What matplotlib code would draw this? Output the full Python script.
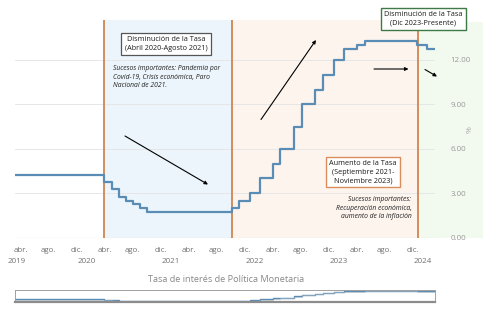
import matplotlib
matplotlib.use("Agg")
import matplotlib.pyplot as plt
import matplotlib.dates as mdates
import matplotlib.transforms as mtransforms
from matplotlib.patches import Rectangle
import pandas as pd

plt.rcParams['font.family'] = ['Open Sans', 'DejaVu Sans']

# ---------------- data ----------------
change_dates = ['2019-03-08', '2020-03-31', '2020-05-01', '2020-05-31', '2020-07-01',
                '2020-08-03', '2020-09-02', '2020-10-01', '2021-10-06', '2021-11-06',
                '2021-12-22', '2022-02-03', '2022-04-03', '2022-05-03', '2022-07-02',
                '2022-08-06', '2022-10-04', '2022-11-04', '2022-12-22', '2023-02-04',
                '2023-04-01', '2023-05-06', '2023-12-21', '2024-01-31']
rates = [4.25, 3.75, 3.25, 2.75, 2.50, 2.25, 2.00, 1.75, 2.00, 2.50,
         3.00, 4.00, 5.00, 6.00, 7.50, 9.00, 10.00, 11.00, 12.00, 12.75,
         13.00, 13.25, 13.00, 12.75]
end_date = '2024-03-07'

phase_bounds = ['2020-03-31', '2021-10-06', '2023-12-24']

month_ticks = ['2019-04-01', '2019-08-01', '2019-12-01', '2020-04-01', '2020-08-01',
               '2020-12-01', '2021-04-01', '2021-08-01', '2021-12-01', '2022-04-01',
               '2022-08-01', '2022-12-01', '2023-04-01', '2023-08-01', '2023-12-01']
month_labels = ['abr.', 'ago.', 'dic.'] * 5
year_pos = ['2019-03-16', '2020-01-15', '2021-01-15', '2022-01-15', '2023-01-15', '2024-01-15']
year_labels = ['2019', '2020', '2021', '2022', '2023', '2024']

y_ticks = [0, 3, 6, 9, 12]

# ---------------- figure ----------------
W, H = 483, 310
fig = plt.figure(figsize=(W / 100, H / 100), dpi=100)
fig.patch.set_facecolor('white')

def fx(x):
    return x / W

def fy(y):
    return 1 - y / H

ax_l, ax_r, ax_t, ax_b = 15, 435, 20, 237.5
ax = fig.add_axes([fx(ax_l), fy(ax_b), fx(ax_r - ax_l), (ax_b - ax_t) / H])
ax.set_facecolor('none')

xd = pd.to_datetime(change_dates + [end_date])
yv = rates + [rates[-1]]
x_start = mdates.date2num(pd.Timestamp(change_dates[0]))
x_end = mdates.date2num(pd.Timestamp(end_date))
pb = [mdates.date2num(pd.Timestamp(d)) for d in phase_bounds]

blue_bg = '#ECF5FB'
peach_bg = '#FDF4EE'
green_bg = '#F2F9EF'
orange = '#CF8650'
line_c = '#5A8DB5'

ax.axvspan(pb[0], pb[1], color=blue_bg, zorder=0, lw=0)
ax.axvspan(pb[1], pb[2], color=peach_bg, zorder=0, lw=0)
# green extends past plot to the figure's right edge
fig.patches.append(Rectangle((fx(418), fy(238)), fx(W - 418), (238 - 22) / H,
                             transform=fig.transFigure, facecolor=green_bg,
                             edgecolor='none', zorder=-5))

for v in y_ticks[1:]:
    ax.axhline(v, color='#E6E6E6', lw=0.7, zorder=1)
ax.axhline(0, color='#C8C8C8', lw=0.8, zorder=1)

for b in pb:
    ax.axvline(b, color=orange, lw=1.3, zorder=3)

ax.step(mdates.date2num(xd), yv, where='post', color=line_c, lw=1.6, zorder=4)

ax.set_xlim(x_start, x_end)
ax.set_ylim(0, 14.7)
for s in ax.spines.values():
    s.set_visible(False)

ax.set_xticks([mdates.date2num(pd.Timestamp(d)) for d in month_ticks])
ax.set_xticklabels(month_labels)
ax.tick_params(axis='x', length=0, pad=7, labelsize=5.7, labelcolor='#707070')
trans = mtransforms.blended_transform_factory(ax.transData, ax.transAxes)
for d, lab in zip(year_pos, year_labels):
    ax.text(mdates.date2num(pd.Timestamp(d)), -(261.5 - ax_b) / (ax_b - ax_t), lab,
            transform=trans, ha='center', va='center', fontsize=5.7, color='#707070')

ax.yaxis.tick_right()
ax.set_yticks(y_ticks)
ax.set_yticklabels([f'{v:.2f}' for v in y_ticks])
ax.tick_params(axis='y', length=0, pad=11, labelsize=5.7, labelcolor='#999999')
fig.text(fx(470), fy(130), '%', rotation=90, ha='center', va='center',
         fontsize=6, color='#AAAAAA')

fig.text(fx(226), fy(279), 'Tasa de interés de Política Monetaria', ha='center',
         va='center', fontsize=6.6, color='#888888')

# ---------------- annotation boxes ----------------
def box(cx, cy, text, ec, lw=0.9):
    fig.text(fx(cx), fy(cy), text, ha='center', va='center', fontsize=5.2,
             color='#1A1A1A', linespacing=1.3, zorder=10,
             bbox=dict(boxstyle='square,pad=0.45', fc='white', ec=ec, lw=lw))

box(166, 44, 'Disminución de la Tasa\n(Abril 2020-Agosto 2021)', '#555555')
box(423, 18.5, 'Disminución de la Tasa\n(Dic 2023-Presente)', '#3E7A45', lw=1.0)
box(363, 172, 'Aumento de la Tasa\n(Septiembre 2021-\nNoviembre 2023)', '#D98E5C', lw=1.0)

fig.text(fx(113), fy(65), 'Sucesos importantes: Pandemia por\nCovid-19, Crisis económica, Paro\nNacional de 2021.',
         ha='left', va='top', fontsize=4.9, style='italic', color='#222222', linespacing=1.3)
fig.text(fx(411.5), fy(196), 'Sucesos importantes:\nRecuperación económica,\naumento de la inflación',
         ha='right', va='top', fontsize=4.9, style='italic', color='#222222', linespacing=1.3)

def arrow(x0, y0, x1, y1):
    ax.annotate('', xy=(fx(x1), fy(y1)), xytext=(fx(x0), fy(y0)),
                xycoords='figure fraction', textcoords='figure fraction',
                arrowprops=dict(arrowstyle='-|>', color='black', lw=0.8,
                                mutation_scale=5, shrinkA=0, shrinkB=0),
                annotation_clip=False)

arrow(125, 136, 208, 184.5)
arrow(261, 119.5, 316, 40)
arrow(374, 69, 408.5, 69)
arrow(425, 69.5, 437, 76.5)

# ---------------- mini slider ----------------
mini = fig.add_axes([fx(15), fy(302), fx(420), 12 / H])
mini.step(mdates.date2num(xd), yv, where='post', color=line_c, lw=1.0)
mini.step(mdates.date2num(xd), [v - 0.6 for v in yv], where='post', color='#A9B4BC', lw=0.6, alpha=0.7)
mini.set_xlim(x_start, x_end)
mini.set_ylim(1.2, 14.0)
mini.set_xticks([])
mini.set_yticks([])
for k, s in mini.spines.items():
    s.set_color('#A0A0A0')
    s.set_linewidth(0.7)
mini.spines['bottom'].set_linewidth(1.6)
mini.spines['bottom'].set_color('#8C8C8C')

fig.savefig('out.png', dpi=100)
